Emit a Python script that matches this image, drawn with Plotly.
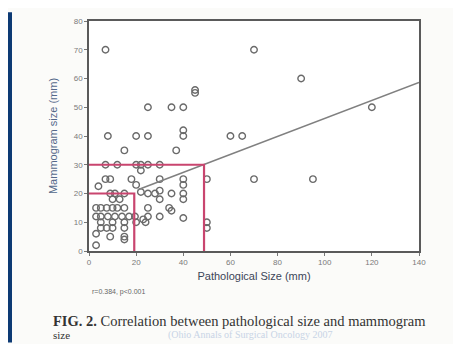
import plotly.graph_objects as go

# ---- data ----
path_size = [7, 70, 90, 45, 45, 25, 35, 40, 120,
             8, 20, 25, 40, 40, 60, 65,
             15, 37,
             7, 12, 20, 22, 25, 30, 22,
             4, 7, 9, 18, 30, 40, 50, 70, 95,
             20, 40,
             9, 11, 15, 22, 25, 28, 30, 35, 40, 40, 30, 10, 13,
             3, 5, 7.5, 10, 12, 15, 25, 34, 35,
             3, 5, 8, 11, 14, 17, 19.5, 23, 25, 30, 40,
             5, 10, 15, 20, 24, 50,
             5, 7.5, 10, 15, 50,
             3, 9, 15, 15, 3]
mammo_size = [70, 70, 60, 55, 56, 50, 50, 50, 50,
              40, 40, 40, 42, 40, 40, 40,
              35, 35,
              30, 30, 30, 30, 30, 30, 28,
              22.5, 25, 25, 25, 25, 25, 25, 25, 25,
              23, 23,
              20, 20, 20, 20.5, 20, 20, 21, 20, 20, 18, 18, 18, 18,
              15, 15, 15, 15, 15, 15, 15, 15, 14,
              12, 12, 12, 12, 12, 12, 12, 11, 12, 12, 11.5,
              10, 10, 10, 10, 10, 10,
              8, 8, 8, 8, 8,
              6, 5, 5, 4, 2]

fit_intercept = 14.8
fit_slope = 0.313
fit_x = [20.7, 140]
fit_y = [fit_intercept + fit_slope * v for v in fit_x]

cut_a_x = [-0.7, 48.8, 48.8]
cut_a_y = [30, 30, 0]
cut_b_x = [0, 19.2, 19.2]
cut_b_y = [20, 20, 0]

x_ticks = [0, 20, 40, 60, 80, 100, 120, 140]
y_ticks = [0, 10, 20, 30, 40, 50, 60, 70, 80]

# ---- layout geometry (page pixels; the page places the figure 8 px in) ----
OFF = 8
W, H = 461 - OFF, 344 - OFF
L, R, T, B = 89, 419, 17, 251


def px(x):
    return (x - L) / (R - L)


def py(y):
    return (B - y) / (B - T)


fig = go.Figure()

fig.add_trace(go.Scatter(x=path_size, y=mammo_size, mode="markers",
                         marker=dict(symbol="circle-open", size=6.5,
                                     color="#6a6a6a", line=dict(width=1.4)),
                         showlegend=False, hoverinfo="skip"))
fig.add_trace(go.Scatter(x=fit_x, y=fit_y, mode="lines",
                         line=dict(color="#808080", width=1.6),
                         showlegend=False, hoverinfo="skip"))
for cx, cy in ((cut_a_x, cut_a_y), (cut_b_x, cut_b_y)):
    fig.add_trace(go.Scatter(x=cx, y=cy, mode="lines",
                             line=dict(color="#c9456f", width=2.2),
                             showlegend=False, hoverinfo="skip", cliponaxis=False))

axis_common = dict(showline=True, linecolor="#5a5a5a", linewidth=1.5, mirror=True,
                   showgrid=False, zeroline=False, ticks="outside", ticklen=3,
                   tickcolor="#777", tickfont=dict(family="Liberation Sans", size=8, color="#7a7a7a"))

fig.update_xaxes(range=[0, 140], tickvals=x_ticks, ticktext=[str(v) for v in x_ticks],
                 title=dict(text="Pathological Size (mm)", standoff=6,
                            font=dict(family="Liberation Sans", size=11, color="#3c4658")),
                 **axis_common)
fig.update_yaxes(range=[0, 80], tickvals=y_ticks, ticktext=[str(v) for v in y_ticks],
                 title=dict(text="Mammogram size (mm)", standoff=14,
                            font=dict(family="Liberation Sans", size=11, color="#54688a")),
                 **axis_common)

blue = "#0d3a74"
fig.update_layout(
    width=W, height=H,
    margin=dict(l=L - OFF, r=W + OFF - R, t=T - OFF, b=H + OFF - B, pad=0),
    paper_bgcolor="#fbfbf9", plot_bgcolor="white",
    shapes=[
        dict(type="rect", xref="paper", yref="paper", layer="below",
             x0=px(OFF), x1=px(12), y0=py(H + OFF), y1=py(OFF),
             fillcolor=blue, line=dict(width=0)),
    ],
    annotations=[
        dict(text="r=0.384, p<0.001", xref="paper", yref="paper",
             x=px(90), y=py(293), xanchor="left", yanchor="middle", showarrow=False,
             font=dict(family="Liberation Sans", size=7, color="#666")),
        dict(text="<b>FIG. 2.</b> Correlation between pathological size and mammogram",
             xref="paper", yref="paper", x=px(51), y=py(322), xanchor="left", yanchor="middle",
             showarrow=False, font=dict(family="Liberation Serif", size=14.5, color="#333")),
        dict(text="size", xref="paper", yref="paper", x=px(51), y=py(336),
             xanchor="left", yanchor="middle", showarrow=False,
             font=dict(family="Liberation Serif", size=11, color="#333")),
        dict(text="(Ohio Annals of Surgical Oncology 2007", xref="paper", yref="paper",
             x=px(250), y=py(336), xanchor="center", yanchor="middle", showarrow=False,
             font=dict(family="Liberation Serif", size=10, color="#c8d4e6")),
    ],
)

fig.write_html("out.html")
